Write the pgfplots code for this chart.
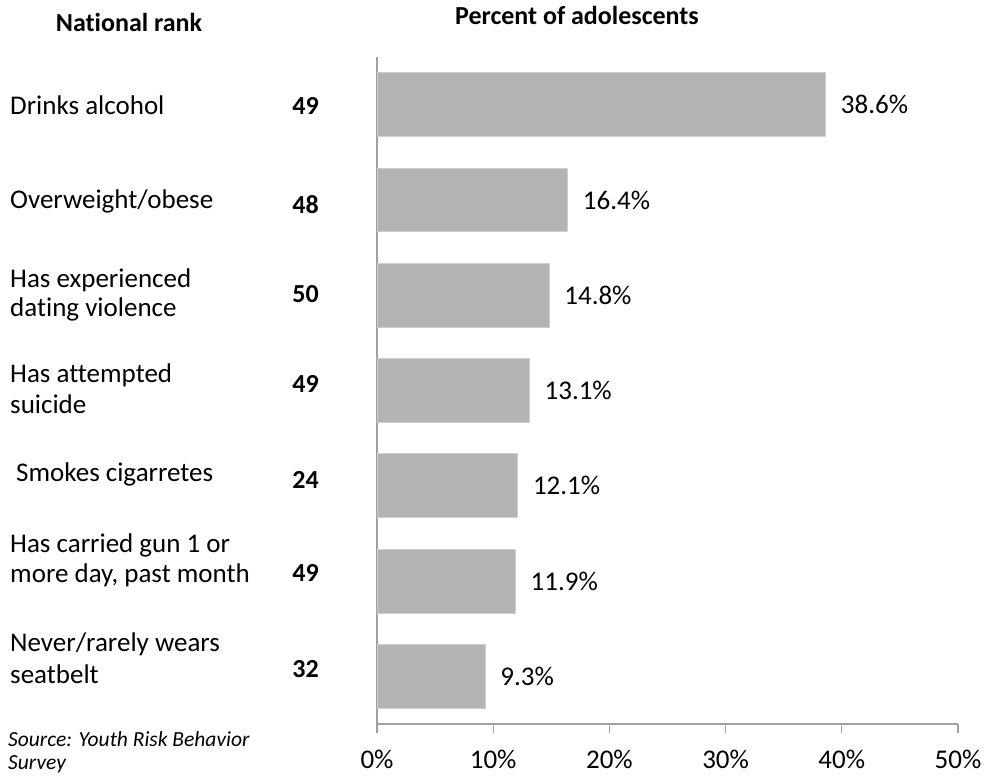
\documentclass[border=0pt]{standalone}
\usepackage{fontspec}
\setmainfont{Carlito}[Ligatures={CommonOff}]
\usepackage{pgfplots}
\pgfplotsset{compat=1.18}
\definecolor{barfill}{HTML}{B3B3B3}
\definecolor{baredge}{HTML}{CFCFCF}
\definecolor{axisgray}{HTML}{A0A0A0}
\newcommand{\bigf}{\fontsize{27}{32}\selectfont}
\newcommand{\titf}{\fontsize{26}{31}\selectfont}
\newcommand{\smallf}{\fontsize{21.5}{25}\selectfont}
\begin{document}
\begin{tikzpicture}[x=1pt,y=1pt]
\useasboundingbox (0,0) rectangle (986,776);
\begin{axis}[
  at={(377pt,52pt)}, anchor=south west,
  scale only axis, width=581pt, height=667pt,
  xmin=0, xmax=50, ymin=-0.5, ymax=6.5,
  xbar, bar width=0.67,
  axis x line*=bottom, axis y line*=left,
  axis line style={axisgray, line width=1.2pt},
  xtick={0,10,20,30,40,50},
  xticklabels={0\%,10\%,20\%,30\%,40\%,50\%},
  ytick=\empty,
  tick align=outside, major tick length=9pt,
  tick style={axisgray, line width=1.2pt},
  xticklabel style={font=\bigf, anchor=north, inner sep=0pt, yshift=-17pt},
  point meta=explicit symbolic,
  nodes near coords={\pgfplotspointmeta\%},
  nodes near coords style={font=\bigf, anchor=west, inner sep=0pt, xshift=15pt},
  clip=false,
]
\addplot[fill=barfill, draw=baredge, line width=0.8pt] coordinates {
  (38.6,6) [38.6]
  (16.4,5) [16.4]
  (14.8,4) [14.8]
  (13.1,3) [13.1]
  (12.1,2) [12.1]
  (11.9,1) [11.9]
  (9.3,0)  [9.3]
};
\end{axis}
% titles
\node[font=\titf\bfseries, anchor=base, inner sep=0pt] at (129,744) {National rank};
\node[font=\titf\bfseries, anchor=base, inner sep=0pt] at (577,751) {Percent of adolescents};
% category labels
\begin{scope}[every node/.style={font=\bigf, anchor=base west, inner sep=0pt}]
\node at (10,661) {Drinks alcohol};
\node at (10,567) {Overweight/obese};
\node at (10,488) {Has experienced};
\node at (10,459) {dating violence};
\node at (10,393) {Has attempted};
\node at (10,362) {suicide};
\node at (16,294) {Smokes cigarretes};
\node at (10,223) {Has carried gun 1 or};
\node at (10,193) {more day, past month};
\node at (10,124) {Never/rarely wears};
\node at (10,92) {seatbelt};
\end{scope}
% ranks
\begin{scope}[every node/.style={font=\titf\bfseries, anchor=base east, inner sep=0pt}]
\node at (319,661) {49};
\node at (319,562) {48};
\node at (319,473) {50};
\node at (319,383) {49};
\node at (319,287) {24};
\node at (319,194) {49};
\node at (319,98) {32};
\end{scope}
% source
\node[font=\smallf\itshape, anchor=base west, inner sep=0pt] at (8,29) {Source: Youth Risk Behavior};
\node[font=\smallf\itshape, anchor=base west, inner sep=0pt] at (8,6) {Survey};
\end{tikzpicture}
\end{document}
